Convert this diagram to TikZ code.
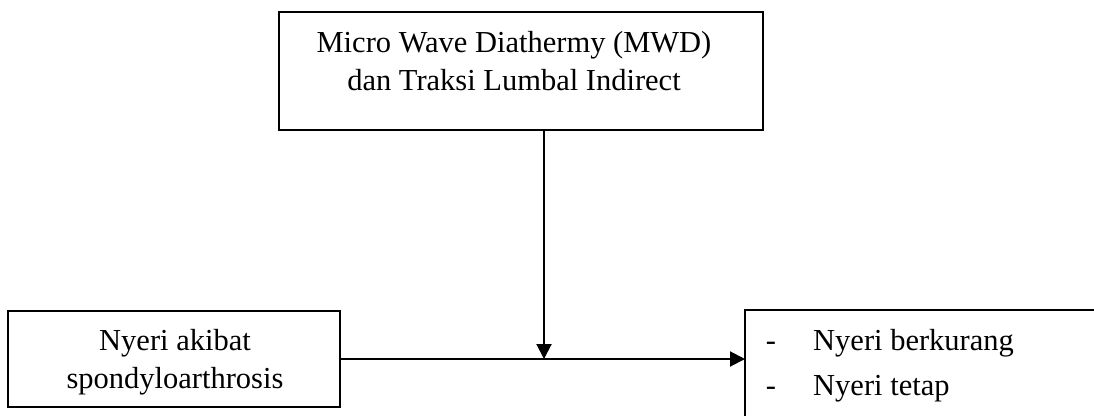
\documentclass[tikz,border=0pt]{standalone}
\usepackage{fontspec}
\setmainfont{Liberation Serif}
\usetikzlibrary{arrows.meta}
\begin{document}
\begin{tikzpicture}[x=1pt,y=1pt,
  box/.style={draw=black,line width=2pt,inner sep=0pt,outer sep=0pt},
  txt/.style={inner sep=0pt,anchor=base,font=\fontsize{30.5}{37}\selectfont},
  conn/.style={draw=black,line width=2pt,-{Triangle[length=15pt,width=15pt]}}]
\useasboundingbox (0,0) rectangle (1094,-415);
\clip (0,0) rectangle (1094,-415);
% top box
\node[box,minimum width=484pt,minimum height=118pt] (top) at (521,-71) {};
\node[txt] (t1) at (514,-52) {Micro Wave Diathermy (MWD)};
\node[txt] (t2) at (514,-90) {dan Traksi Lumbal Indirect};
% left box
\node[box,minimum width=332pt,minimum height=96pt] (left) at (174,-359) {};
\node[txt] (l1) at (175,-350) {Nyeri akibat};
\node[txt] (l2) at (175,-388) {spondyloarthrosis};
% right box (cut off by the picture edge)
\node[box,minimum width=400pt,minimum height=150pt,anchor=north west] (right) at (745,-310) {};
\node[txt] (d1) at (771,-350) {-};
\node[txt,anchor=base west] (r1) at (813,-350) {Nyeri berkurang};
\node[txt] (d2) at (771,-395) {-};
\node[txt,anchor=base west] (r2) at (813,-395) {Nyeri tetap};
% connectors
\coordinate (j) at (544,-359);
\draw[conn] (left.east) -- (left.east -| right.west);
\draw[conn] (top.south -| j) -- (j);
\end{tikzpicture}
\end{document}
